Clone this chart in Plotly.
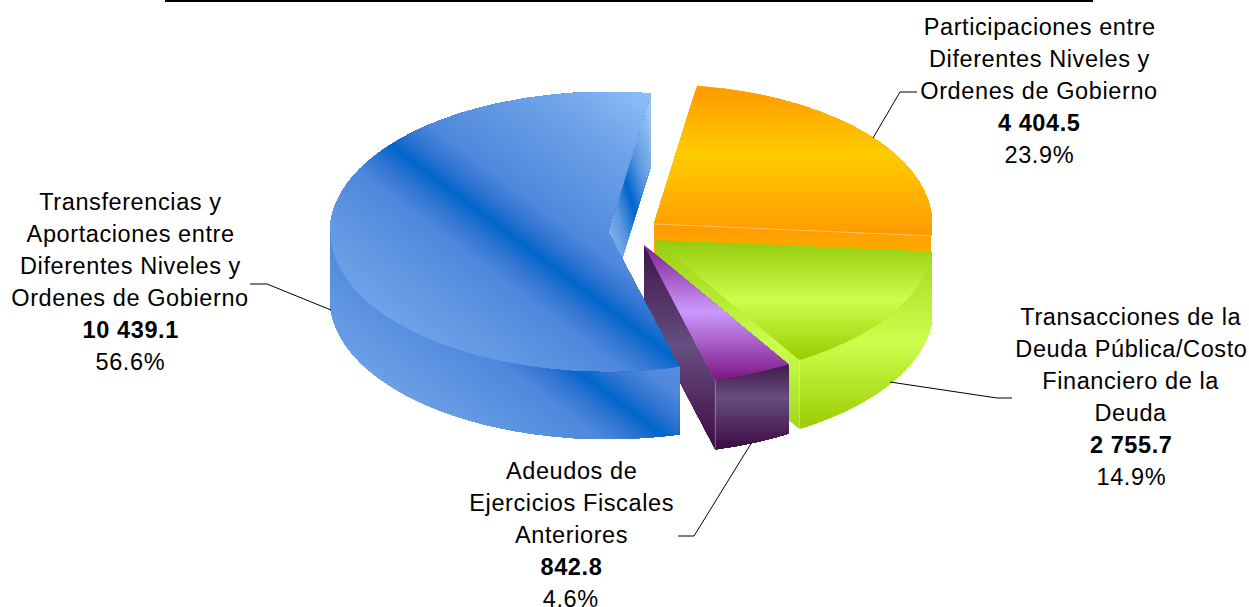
import math
import plotly.graph_objects as go

# ---------- data ----------
categories = ["Participaciones entre Diferentes Niveles y Ordenes de Gobierno",
              "Transacciones de la Deuda Pública/Costo Financiero de la Deuda",
              "Adeudos de Ejercicios Fiscales Anteriores",
              "Transferencias y Aportaciones entre Diferentes Niveles y Ordenes de Gobierno"]
values = [4404.5, 2755.7, 842.8, 10439.1]
value_labels = ["4 404.5", "2 755.7", "842.8", "10 439.1"]
percent_labels = ["23.9%", "14.9%", "4.6%", "56.6%"]
label_lines = [["Participaciones entre", "Diferentes Niveles y", "Ordenes de Gobierno"],
               ["Transacciones de la", "Deuda Pública/Costo", "Financiero de la", "Deuda"],
               ["Adeudos de", "Ejercicios Fiscales", "Anteriores"],
               ["Transferencias y", "Aportaciones entre", "Diferentes Niveles y", "Ordenes de Gobierno"]]

# ---------- layout of the pie ----------
START = 8.9
RX, RY, DEPTH = 278, 140, 69
CENTERS = [(654, 224), (655, 240), (644, 245), (608, 232)]
total = sum(values)
angles = [START]
for v in values:
    angles.append(angles[-1] + 360 * v / total)


def rim(i, t, drop=0):
    cx, cy = CENTERS[i]
    r = math.radians(t)
    return (cx + RX * math.sin(r), cy - RY * math.cos(r) + drop)


def arc(i, a, b, drop=0, n=90):
    return [rim(i, a + (b - a) * k / n, drop) for k in range(n + 1)]


def clip(poly, nx, ny, s):
    out = []
    m = len(poly)
    for k in range(m):
        p, q = poly[k], poly[(k + 1) % m]
        sp, sq = nx * p[0] + ny * p[1] - s, nx * q[0] + ny * q[1] - s
        if sp >= 0:
            out.append(p)
        if (sp >= 0) != (sq >= 0):
            f = sp / (sp - sq)
            out.append((p[0] + (q[0] - p[0]) * f, p[1] + (q[1] - p[1]) * f))
    return out


def hex2rgb(h):
    return tuple(int(h[i:i + 2], 16) for i in (1, 3, 5))


def ramp(stops, f):
    f = max(0, min(1, f))
    for (a, ca), (b, cb) in zip(stops, stops[1:]):
        if f <= b:
            g = (f - a) / (b - a) if b > a else 0
            A, B = hex2rgb(ca), hex2rgb(cb)
            return "rgb(%d,%d,%d)" % tuple(round(A[j] + (B[j] - A[j]) * g) for j in range(3))
    return stops[-1][1]


fig = go.Figure()


def face(poly, n, s0, s1, stops, strips=36):
    # painter's gradient: each band covers everything beyond it, so no seams show
    nx, ny = n
    for k in range(strips):
        lo = s0 + (s1 - s0) * k / strips if k else -1e6
        piece = clip(poly, nx, ny, lo)
        if len(piece) < 3:
            continue
        col = ramp(stops, (k + .5) / strips)
        fig.add_trace(go.Scatter(x=[p[0] for p in piece] + [piece[0][0]],
                                 y=[p[1] for p in piece] + [piece[0][1]],
                                 mode="none", fill="toself", fillcolor=col,
                                 hoverinfo="skip", showlegend=False))


def edge(p, q, color="rgba(255,255,255,0.35)", width=1):
    fig.add_trace(go.Scatter(x=[p[0], q[0]], y=[p[1], q[1]], mode="lines",
                             line=dict(color=color, width=width),
                             hoverinfo="skip", showlegend=False))


V = (0, 1)
A0, A1, A2, A3, A4 = angles
ctr = CENTERS
BLUE = [(0, "#8CBEF8"), (.141, "#70A4E8"), (.397, "#4F88DC"), (.46, "#2A72D0"),
        (.5, "#0066CC"), (.54, "#2A72D0"), (.603, "#4F88DC"), (.859, "#72A6EA"), (1, "#8CBEF8")]
BAND = (0.6, -0.8)
HALF = 195

# blue far cut face
p_end = rim(3, A4)
face([ctr[3], p_end, (p_end[0], p_end[1] + DEPTH + 3), (ctr[3][0], ctr[3][1] + DEPTH + 3)],
     (0.96, -0.29), 505, 591,
     [(0, "#9CC6F5"), (.3, "#5E98E2"), (.5, "#0066CC"), (.7, "#5E98E2"), (1, "#9CC6F5")], 60)
edge(ctr[3], p_end, "rgba(255,255,255,0.45)")

# orange cut face and top
p = rim(0, A1)
face([ctr[0], p, (p[0], p[1] + DEPTH), (ctr[0][0], ctr[0][1] + DEPTH)], V, 224, 262,
     [(0, "#FF9900"), (1, "#FFB300")], 12)
face([ctr[0]] + arc(0, A0, A1), V, 86, 236,
     [(0, "#FF9900"), (.46, "#FFCC00"), (1, "#FF9900")], 60)
edge(ctr[0], p, "rgba(255,210,150,0.7)")

# green cut face, side, top
p = rim(1, A2)
face([ctr[1], p, (p[0], p[1] + DEPTH), (ctr[1][0], ctr[1][1] + DEPTH)], V, 240, 430,
     [(0, "#9ACD10"), (.55, "#CCFF4D"), (1, "#A0D81E")], 50)
face(arc(1, A1, A2) + arc(1, A2, A1, DEPTH), V, 252, 430,
     [(0, "#A4D81E"), (.5, "#CCFF4D"), (1, "#99CC00")], 60)
face([ctr[1]] + arc(1, A1, A2), V, 240, 360,
     [(0, "#93CB0C"), (.5, "#CCFF4D"), (1, "#99CC00")], 60)
edge(p, (p[0], p[1] + DEPTH))

# purple left cut face (partly hidden by the blue slice)
p = rim(2, A3)
face([ctr[2], p, (p[0], p[1] + DEPTH), (ctr[2][0], ctr[2][1] + DEPTH)], V, 245, 447,
     [(0, "#3F1448"), (.5, "#664E80"), (1, "#3F0D45")], 50)

# blue top and outer side
face([ctr[3]] + arc(3, A3, A4, n=240), BAND, 118 - HALF, 118 + HALF, BLUE, 150)
face(arc(3, A3, 270) + arc(3, 270, A3, DEPTH - 2), BAND, 50 - HALF, 50 + HALF, BLUE, 150)

# purple top and outer side
face([ctr[2]] + arc(2, A2, A3, n=30), V, 245, 378,
     [(0, "#7F1F8F"), (.5, "#CC99FF"), (1, "#7F1A85")], 50)
face(arc(2, A2, A3, n=30) + arc(2, A3, A2, DEPTH, n=30), V, 362, 447,
     [(0, "#401548"), (.42, "#664E80"), (1, "#3F0D45")], 40)
edge(p, (p[0], p[1] + DEPTH))

# leader lines and the rule above the chart
LEADERS = [[(873, 138), (900, 92), (917, 92)],
           [(890, 382), (997, 398), (1012, 398)],
           [(752, 442), (694, 536), (678, 536)],
           [(331, 310), (267, 284), (250, 284)]]
for L in LEADERS:
    fig.add_trace(go.Scatter(x=[q[0] for q in L], y=[q[1] for q in L], mode="lines",
                             line=dict(color="#000000", width=1),
                             hoverinfo="skip", showlegend=False))
fig.add_trace(go.Scatter(x=[165, 1093], y=[1, 1], mode="lines",
                         line=dict(color="#000000", width=2),
                         hoverinfo="skip", showlegend=False))

# labels
LABEL_POS = [(1039, 27), (1131, 317), (571, 471), (130, 202)]
LINE_H = 32
for i, (cx, y0) in enumerate(LABEL_POS):
    lines = label_lines[i] + ["<b>%s</b>" % value_labels[i], percent_labels[i]]
    for k, txt in enumerate(lines):
        fig.add_annotation(x=cx, y=y0 + k * LINE_H, text=txt, showarrow=False,
                           xanchor="center", yanchor="middle",
                           font=dict(family="Liberation Sans", size=23.5, color="#000000"))

fig.update_layout(width=1249, height=607, margin=dict(l=0, r=0, t=0, b=0),
                  paper_bgcolor="#FFFFFF", plot_bgcolor="#FFFFFF", showlegend=False,
                  xaxis=dict(range=[0, 1249], visible=False, fixedrange=True),
                  yaxis=dict(range=[607, 0], visible=False, fixedrange=True))
POST = """
document.body.style.margin='0';
function sp(){document.querySelectorAll('.annotation-text').forEach(function(t){t.style.letterSpacing='0.6px';});}
sp();setTimeout(sp,50);setTimeout(sp,300);
"""
fig.write_html("out.html", post_script=POST, config={"displayModeBar": False})
